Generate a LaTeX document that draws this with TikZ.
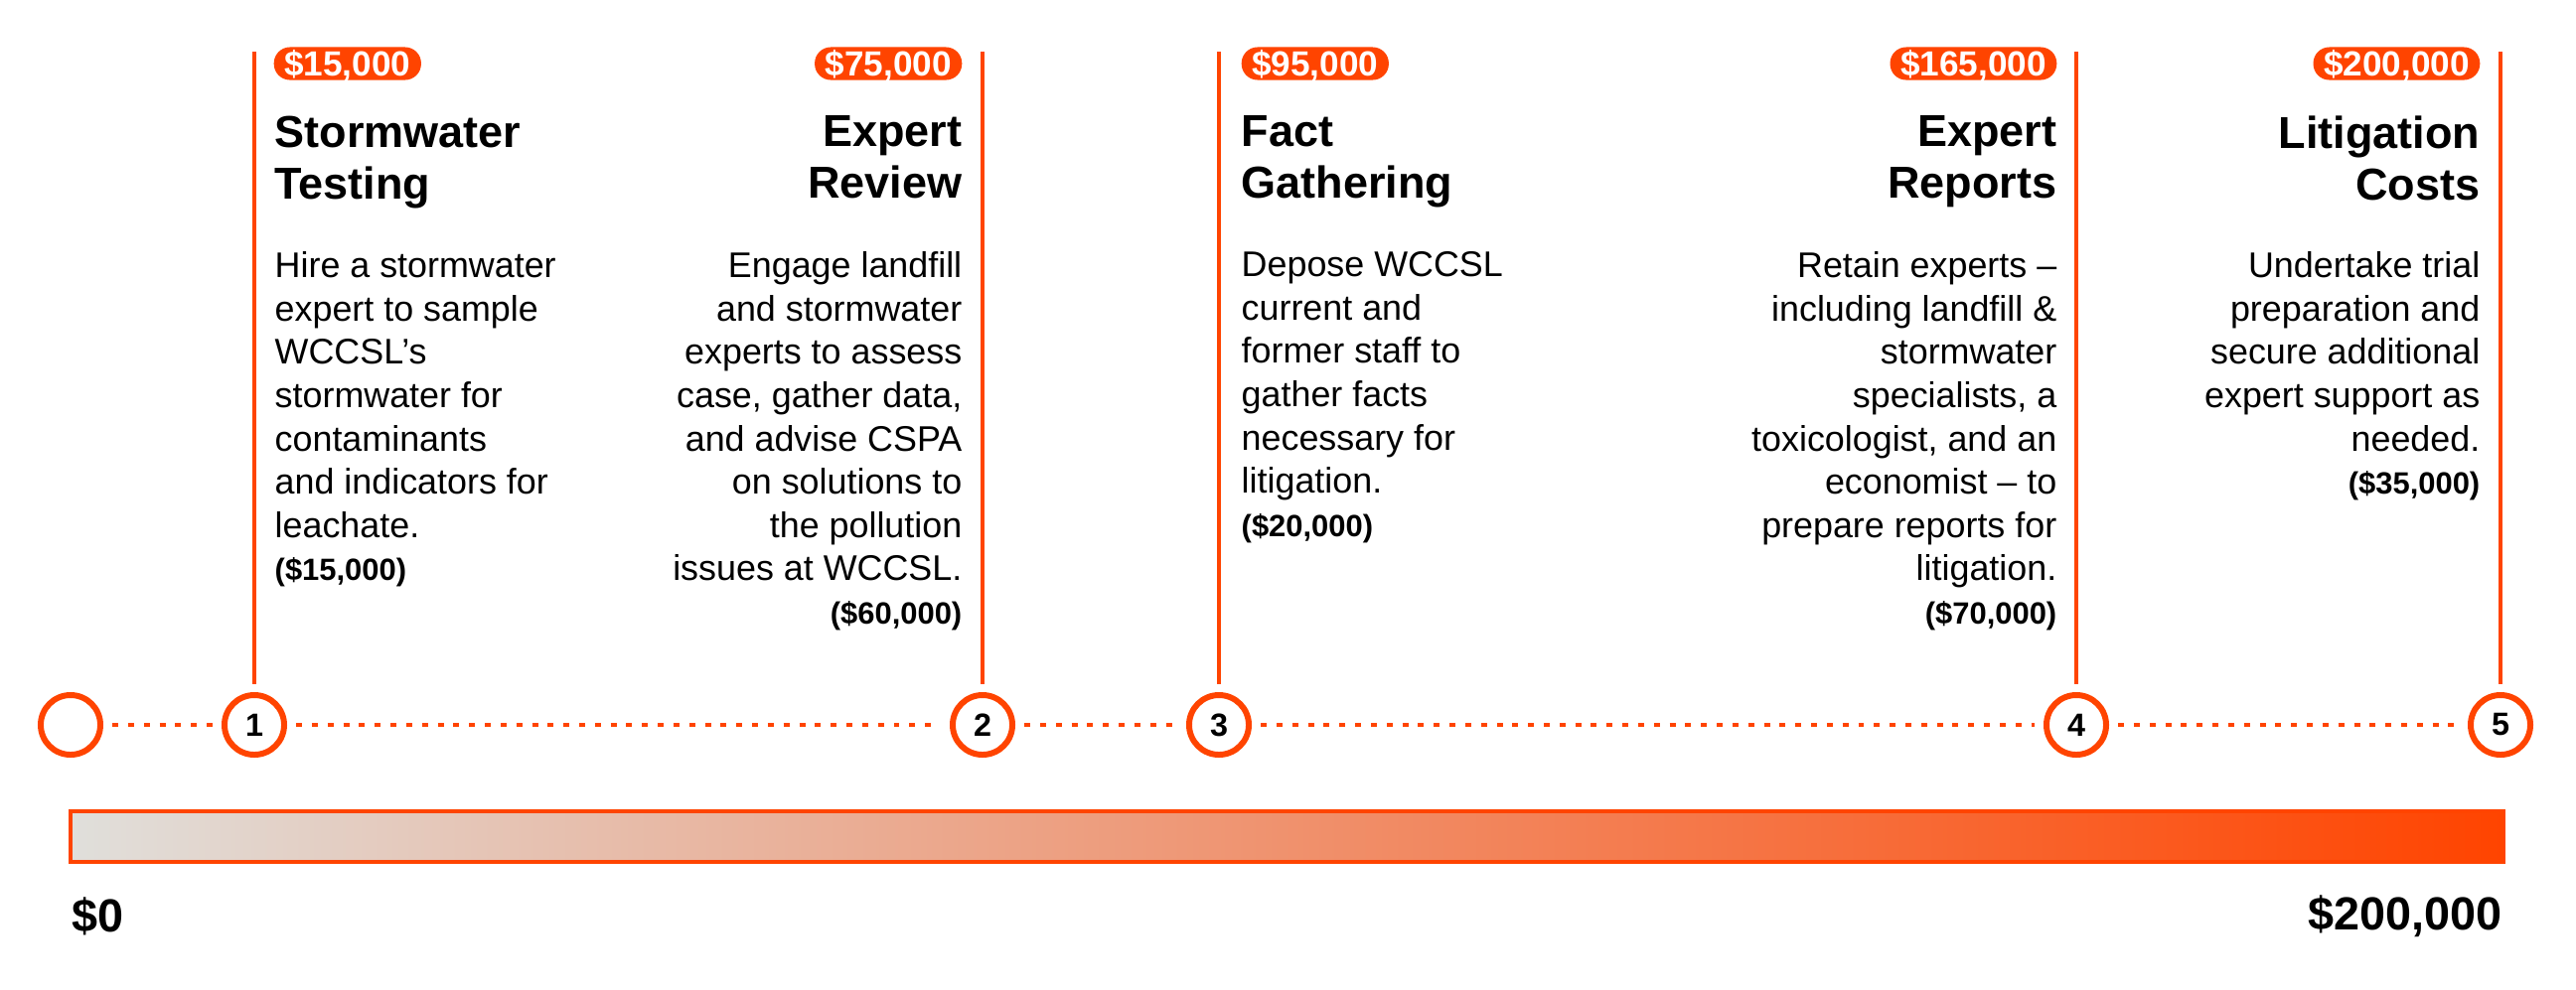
\documentclass[tikz,border=0pt]{standalone}
\usepackage{fontspec}
\setmainfont{Liberation Sans}
\usepackage{tikz}
\definecolor{colOr}{HTML}{FF4400}
\definecolor{colGr}{HTML}{E0DFDB}
\newcommand{\amt}{\fontsize{8.8}{10}\selectfont\bfseries}

\begin{document}
\begin{tikzpicture}[x=0.01cm, y=-0.01cm]
    \tikzstyle{ring} += [circle, draw=colOr, line width=1.7pt, fill=white, minimum size=0.6cm, inner sep=0pt, font=\fontsize{9.2}{11}\selectfont\bfseries];
    \tikzstyle{stem} += [colOr, line width=1pt, shorten >=2.3pt];
    \tikzstyle{dots} += [colOr, line width=1.2pt, dash pattern=on 1.7pt off 2.8pt, shorten >=2.6pt, shorten <=2.6pt];
    \tikzstyle{badge} += [fill=colOr, text=white, rounded corners=4.6pt, inner xsep=3pt, inner ysep=0pt, minimum height=9.4pt, text height=7.3pt, text depth=0.4pt, font=\fontsize{10}{12}\selectfont\bfseries];
    \tikzstyle{ttl} += [inner sep=0pt, font=\fontsize{12.8}{14.8}\selectfont\bfseries];
    \tikzstyle{txt} += [inner sep=0pt, font=\fontsize{10.2}{12.4}\selectfont];
    \tikzstyle{lbl} += [inner sep=0pt, font=\fontsize{13.3}{15}\selectfont\bfseries];

    \useasboundingbox (0,0) rectangle (2593,996);

    \node (c0) at (  71, 730) [ring] {};
    \node (c1) at ( 256, 730) [ring] {1};
    \node (c2) at ( 989, 730) [ring] {2};
    \node (c3) at (1227, 730) [ring] {3};
    \node (c4) at (2090, 730) [ring] {4};
    \node (c5) at (2517, 730) [ring] {5};

    \coordinate (t1) at ( 256, 52);
    \coordinate (t2) at ( 989, 52);
    \coordinate (t3) at (1227, 52);
    \coordinate (t4) at (2090, 52);
    \coordinate (t5) at (2517, 52);

    \draw[stem] (t1) -- (c1);
    \draw[stem] (t2) -- (c2);
    \draw[stem] (t3) -- (c3);
    \draw[stem] (t4) -- (c4);
    \draw[stem] (t5) -- (c5);

    \draw[dots] (c0) -- (c1);
    \draw[dots] (c1) -- (c2);
    \draw[dots] (c2) -- (c3);
    \draw[dots] (c3) -- (c4);
    \draw[dots] (c4) -- (c5);

    \node (b1) at ( 275, 64) [badge, anchor=west] {\$15,000};
    \node (b2) at ( 969, 64) [badge, anchor=east] {\$75,000};
    \node (b3) at (1249, 64) [badge, anchor=west] {\$95,000};
    \node (b4) at (2071, 64) [badge, anchor=east] {\$165,000};
    \node (b5) at (2497, 64) [badge, anchor=east] {\$200,000};

    \node (h1) at ( 276, 116) [ttl, anchor=north west, align=left]  {Stormwater\\Testing};
    \node (h2) at ( 969, 116) [ttl, anchor=north east, align=right] {Expert\\Review};
    \node (h3) at (1249, 116) [ttl, anchor=north west, align=left]  {Fact\\Gathering};
    \node (h4) at (2071, 116) [ttl, anchor=north east, align=right] {Expert\\Reports};
    \node (h5) at (2497, 116) [ttl, anchor=north east, align=right] {Litigation\\Costs};

    \node (d1) at ( 276, 253) [txt, anchor=north west, align=left]
      {Hire a stormwater\\expert to sample\\WCCSL's\\stormwater for\\contaminants\\and indicators for\\leachate.\\{\amt (\$15,000)}};
    \node (d2) at ( 969, 253) [txt, anchor=north east, align=right]
      {Engage landfill\\and stormwater\\experts to assess\\case, gather data,\\and advise CSPA\\on solutions to\\the pollution\\issues at WCCSL.\\{\amt (\$60,000)}};
    \node (d3) at (1249, 253) [txt, anchor=north west, align=left]
      {Depose WCCSL\\current and\\former staff to\\gather facts\\necessary for\\litigation.\\{\amt (\$20,000)}};
    \node (d4) at (2071, 253) [txt, anchor=north east, align=right]
      {Retain experts --\\including landfill \&\\stormwater\\specialists, a\\toxicologist, and an\\economist -- to\\prepare reports for\\litigation.\\{\amt (\$70,000)}};
    \node (d5) at (2497, 253) [txt, anchor=north east, align=right]
      {Undertake trial\\preparation and\\secure additional\\expert support as\\needed.\\{\amt (\$35,000)}};

    \draw[colOr, line width=1.1pt, left color=colGr, right color=colOr] (71,817) rectangle (2520,868);

    \node (z0) at (  72, 923) [lbl, anchor=west] {\$0};
    \node (z1) at (2519, 923) [lbl, anchor=east] {\$200,000};
  \end{tikzpicture}
\end{document}
